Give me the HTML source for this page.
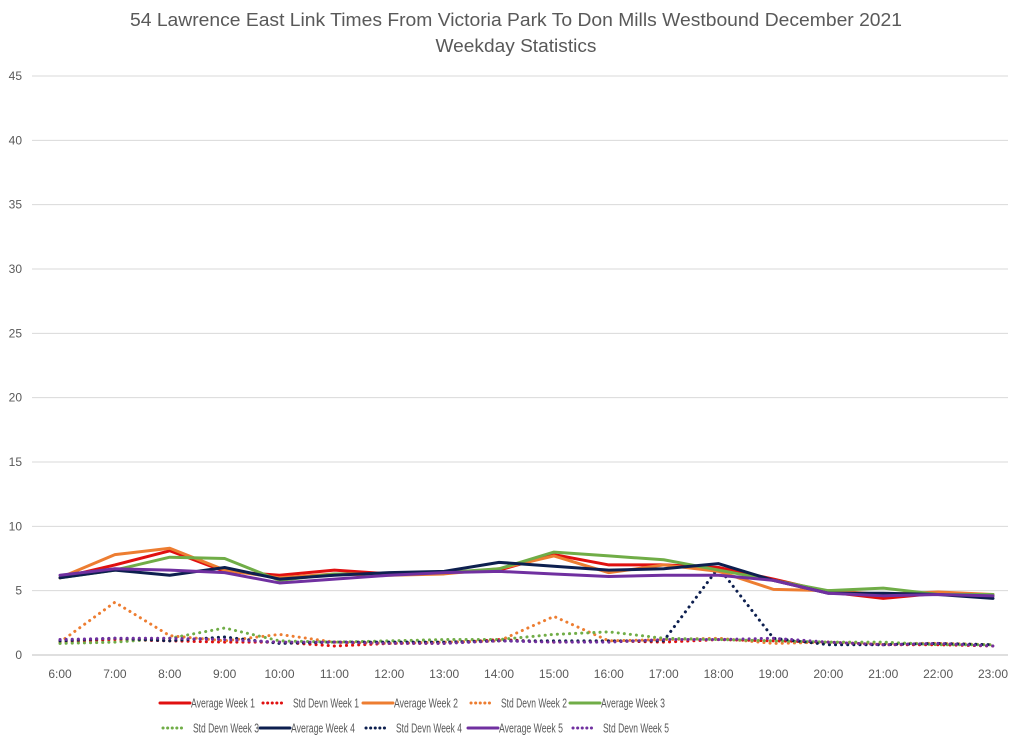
<!DOCTYPE html>
<html><head><meta charset="utf-8"><style>
body{margin:0;background:#fff;font-family:"Liberation Sans",sans-serif}
svg text{font-family:"Liberation Sans",sans-serif}
</style></head><body>
<svg id="chart" width="1024" height="744" xmlns="http://www.w3.org/2000/svg">
<text x="516" y="26" text-anchor="middle" font-size="18.5" fill="#595959" textLength="772" lengthAdjust="spacingAndGlyphs">54 Lawrence East Link Times From Victoria Park To Don Mills Westbound December 2021</text>
<text x="516" y="52" text-anchor="middle" font-size="18.5" fill="#595959" textLength="161" lengthAdjust="spacingAndGlyphs">Weekday Statistics</text>
<g id="grid"></g><g id="series"></g><g id="legend"></g>
</svg>
<script>
const categories=["6:00","7:00","8:00","9:00","10:00","11:00","12:00","13:00","14:00","15:00","16:00","17:00","18:00","19:00","20:00","21:00","22:00","23:00"];
const yTicks=[0,5,10,15,20,25,30,35,40,45];
const avgWeek1=[6.0,7.0,8.1,6.5,6.2,6.6,6.3,6.4,6.6,7.8,7.0,7.0,6.8,5.9,4.9,4.4,4.8,4.6];
const stdWeek1=[1.0,1.2,1.1,1.0,1.0,0.7,0.9,0.9,1.2,1.0,1.1,1.0,1.2,1.1,1.0,0.8,0.8,0.7];
const avgWeek2=[6.0,7.8,8.3,6.6,6.0,6.3,6.2,6.3,6.7,7.7,6.4,7.0,6.5,5.1,5.0,4.7,4.9,4.7];
const stdWeek2=[1.0,4.1,1.5,1.1,1.6,1.0,0.9,1.0,1.1,3.0,1.1,1.2,1.3,0.9,1.0,0.9,0.9,0.8];
const avgWeek3=[6.0,6.6,7.6,7.5,5.8,6.3,6.3,6.4,6.7,8.0,7.7,7.4,6.6,5.8,5.0,5.2,4.7,4.7];
const stdWeek3=[0.9,1.0,1.3,2.1,1.1,1.0,1.1,1.2,1.2,1.6,1.8,1.3,1.2,1.1,1.0,1.0,0.8,0.8];
const avgWeek4=[6.0,6.6,6.2,6.8,5.9,6.2,6.4,6.5,7.2,6.9,6.6,6.7,7.1,5.8,4.8,4.8,4.7,4.4];
const stdWeek4=[1.1,1.3,1.1,1.4,0.9,1.0,1.0,1.0,1.1,1.1,1.1,1.1,6.8,1.3,0.8,0.8,0.9,0.8];
const avgWeek5=[6.2,6.7,6.6,6.4,5.6,5.9,6.2,6.4,6.5,6.3,6.1,6.2,6.2,5.8,4.8,4.6,4.7,4.6];
const stdWeek5=[1.2,1.3,1.3,1.2,1.0,1.0,0.9,0.9,1.1,1.0,1.0,1.2,1.2,1.3,1.0,0.8,0.9,0.7];
const seriesNames=["Average Week 1","Std Devn Week 1","Average Week 2","Std Devn Week 2","Average Week 3","Std Devn Week 3","Average Week 4","Std Devn Week 4","Average Week 5","Std Devn Week 5"];

const NS="http://www.w3.org/2000/svg";
const X0=60,X1=993,Y0=655,Y45=76,L=32,R=1008;
const xs=i=>X0+(X1-X0)*i/(categories.length-1);
const ys=v=>Y0-(Y0-Y45)*v/45;
function mk(t,a,p){const e=document.createElementNS(NS,t);for(const k in a)e.setAttribute(k,a[k]);p.appendChild(e);return e;}
const grid=document.getElementById('grid');
yTicks.forEach(t=>{
  const l=mk('line',{x1:L,x2:R,y1:ys(t),y2:ys(t),stroke:t===0?'#bfbfbf':'#d9d9d9','stroke-width':1},grid);
  
  
  const tx=mk('text',{x:22,y:ys(t)+4,'text-anchor':'end','font-size':12,fill:'#595959'},grid);
  tx.textContent=t;
  
  
});
categories.forEach((c,i)=>{
  const tx=mk('text',{x:xs(i),y:678,'text-anchor':'middle','font-size':12,fill:'#595959'},grid);
  tx.textContent=c;
  
  
});
const colors=["#e01010","#e01010","#ed7d31","#ed7d31","#70ad47","#70ad47","#0d1f4f","#0d1f4f","#7030a0","#7030a0"];
const data=[avgWeek1,stdWeek1,avgWeek2,stdWeek2,avgWeek3,stdWeek3,avgWeek4,stdWeek4,avgWeek5,stdWeek5];
const sg=document.getElementById('series');
const order=[1,3,5,7,9,0,2,4,6,8];
order.forEach(k=>{
  const dotted=k%2===1;
  const pts=data[k].map((v,i)=>xs(i)+','+ys(v)).join(' ');
  const p=mk('polyline',{points:pts,fill:'none',stroke:colors[k],'stroke-width':3,'stroke-linejoin':'round','stroke-linecap':'round'},sg);
  if(dotted){p.setAttribute('stroke-dasharray','0.1 6');}
  
  
});
const lg=document.getElementById('legend');
const lx=[160,260,363,468,570];
seriesNames.forEach((n,k)=>{
  const row=k<5?0:1, col=k%5;
  const y=row?728:703, x=lx[col];
  const dotted=k%2===1;
  const g=mk('g',{},lg);
  
  
  const ln=mk('line',{x1:x+(dotted?3:0),x2:x+(dotted?26:30),y1:y,y2:y,stroke:colors[k],'stroke-width':3,'stroke-linecap':'round'},g);
  if(dotted)ln.setAttribute('stroke-dasharray','0.1 4.5');
  const t=mk('text',{x:x+(dotted?33:31),y:y+4.5,'font-size':13,fill:'#595959',textLength:dotted?66:64,lengthAdjust:'spacingAndGlyphs'},g);
  t.textContent=n;
});
</script>
</body></html>
